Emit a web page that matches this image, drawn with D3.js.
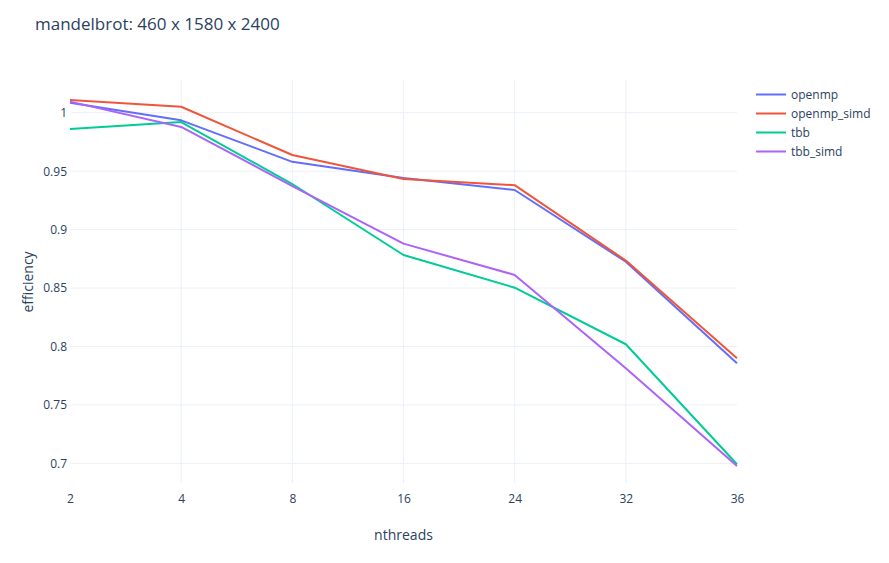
<!DOCTYPE html>
<html>
<head>
<meta charset="utf-8">
<script src="https://cdn.jsdelivr.net/npm/d3@7"></script>
<style>
  body { margin: 0; background: #fff; }
  text { font-family: "Open Sans", sans-serif; fill: #2a3f5f; }
</style>
</head>
<body>
<div id="chart"></div>
<script>
var nthreads = ["2", "4", "8", "16", "24", "32", "36"];
var seriesNames = ["openmp", "openmp_simd", "tbb", "tbb_simd"];
var openmp = [1.0086, 0.9935, 0.958, 0.9441, 0.9339, 0.8725, 0.7856];
var openmpSimd = [1.0109, 1.0051, 0.9638, 0.9433, 0.938, 0.8735, 0.790];
var tbb = [0.986, 0.992, 0.939, 0.8783, 0.8503, 0.8019, 0.6992];
var tbbSimd = [1.0095, 0.9878, 0.9373, 0.888, 0.8612, 0.7813, 0.6978];
var yTicks = [0.7, 0.75, 0.8, 0.85, 0.9, 0.95, 1];
var colors = ["#636efa", "#EF553B", "#00cc96", "#ab63fa"];

var svgWidth = 889;
var svgHeight = 563;
var margin = { top: 80, right: 152, bottom: 80, left: 70 };
var chartWidth = svgWidth - margin.left - margin.right;
var chartHeight = svgHeight - margin.top - margin.bottom;

var svg = d3.select("#chart").append("svg")
  .attr("width", svgWidth)
  .attr("height", svgHeight);

svg.append("text")
  .attr("x", 35)
  .attr("y", 30)
  .style("font-size", "17px")
  .text("mandelbrot: 460 x 1580 x 2400");

var chartGroup = svg.append("g")
  .attr("transform", `translate(${margin.left}, ${margin.top})`);

var xScale = d3.scalePoint()
  .domain(nthreads)
  .range([0, chartWidth])
  .padding(0);

var yScale = d3.scaleLinear()
  .domain([0.6832, 1.028])
  .range([chartHeight, 0]);

// grid (edge lines are hidden like plotly does)
chartGroup.append("g")
  .selectAll("line")
  .data(nthreads.slice(1, -1))
  .enter()
  .append("line")
    .attr("x1", d => xScale(d))
    .attr("x2", d => xScale(d))
    .attr("y1", 0)
    .attr("y2", chartHeight)
    .attr("stroke", "#ebf0f8");

chartGroup.append("g")
  .selectAll("line")
  .data(yTicks)
  .enter()
  .append("line")
    .attr("x1", 0)
    .attr("x2", chartWidth)
    .attr("y1", d => yScale(d))
    .attr("y2", d => yScale(d))
    .attr("stroke", "#ebf0f8");

var xAxis = d3.axisBottom(xScale).tickSize(0).tickPadding(8);
var yAxis = d3.axisLeft(yScale).tickValues(yTicks).tickSize(0).tickPadding(3)
  .tickFormat(d => String(+d.toFixed(2)));

var gx = chartGroup.append("g")
  .attr("transform", `translate(0, ${chartHeight + 3})`)
  .call(xAxis);
var gy = chartGroup.append("g")
  .call(yAxis);

[gx, gy].forEach(function(g) {
  g.select(".domain").remove();
  g.selectAll("text")
    .style("font-size", "12px")
    .style("font-family", "Open Sans")
    .attr("fill", "#2a3f5f");
});

svg.append("text")
  .attr("x", margin.left + chartWidth / 2)
  .attr("y", 540)
  .attr("text-anchor", "middle")
  .style("font-size", "14px")
  .text("nthreads");

svg.append("text")
  .attr("transform", "translate(33, 282) rotate(-90)")
  .attr("text-anchor", "middle")
  .style("font-size", "14px")
  .text("efficiency");

var allSeries = [openmp, openmpSimd, tbb, tbbSimd];

var line = d3.line()
  .x((d, i) => xScale(nthreads[i]))
  .y(d => yScale(d));

chartGroup.selectAll(".series")
  .data(allSeries)
  .enter()
  .append("path")
    .attr("class", "series")
    .attr("d", line)
    .attr("fill", "none")
    .attr("stroke", (d, i) => colors[i])
    .attr("stroke-width", 2)
    .attr("stroke-linejoin", "round");

// legend
var legend = svg.append("g")
  .attr("transform", "translate(756, 94.5)");

var items = legend.selectAll("g")
  .data(seriesNames)
  .enter()
  .append("g")
    .attr("transform", (d, i) => `translate(0, ${i * 19})`);

items.append("line")
  .attr("x1", 0)
  .attr("x2", 30)
  .attr("stroke", (d, i) => colors[i])
  .attr("stroke-width", 2);

items.append("text")
  .attr("x", 35)
  .attr("dy", "0.35em")
  .style("font-size", "12px")
  .text(d => d);
</script>
</body>
</html>
